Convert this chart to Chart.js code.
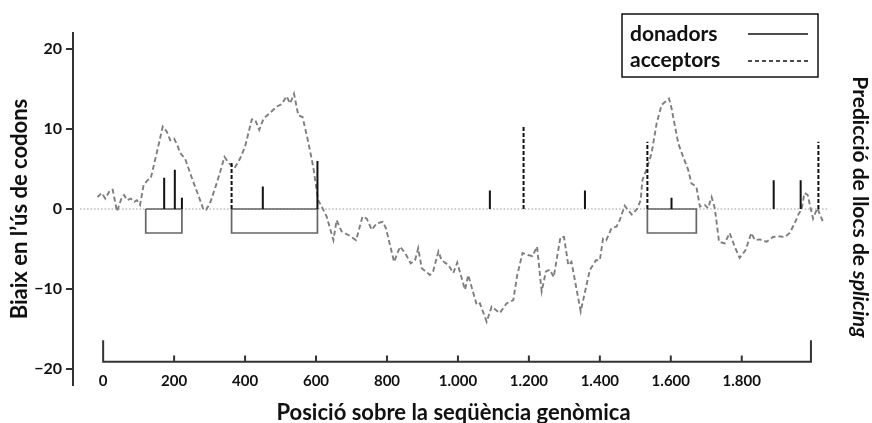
<!DOCTYPE html>
<html><head><meta charset="utf-8">
<script src="https://cdn.jsdelivr.net/npm/chart.js@4/dist/chart.umd.min.js"></script>
<style>html,body{margin:0;padding:0;background:#fff}#wrap{width:872px;height:423px;position:relative}</style>
</head><body><div id="wrap"><canvas id="c"></canvas></div>
<script>
// ---- data ----
const curvePos = [-16,-4,6,20,27,39,53,59,67,78,88,95,104,114,125,134,151,168,179,189,200,209,217,231,245,259,268,283,290,301,320,342,355,370,386,400,419,428,440,452,470,489,503,517,527,538,550,562,578,592,606,616,630,649,658,672,691,713,731,743,757,771,788,797,820,837,851,867,879,888,898,921,930,945,954,973,987,998,1020,1029,1053,1062,1081,1095,1118,1137,1156,1167,1182,1198,1210,1223,1236,1248,1259,1270,1289,1299,1311,1320,1346,1372,1389,1400,1409,1418,1433,1447,1456,1470,1490,1505,1515,1520,1531,1546,1560,1574,1595,1602,1621,1635,1649,1658,1672,1682,1696,1705,1715,1724,1736,1752,1766,1780,1794,1810,1827,1837,1851,1870,1888,1902,1921,1935,1949,1961,1968,1977,1986,1993,2001,2013,2029];
const curveVal = [1.5,2.0,1.3,2.4,2.4,-0.3,1.5,1.75,1.1,1.3,0.9,1.1,0.5,3.0,3.6,3.8,7.0,10.3,9.7,8.6,8.8,8.0,7.0,6.3,4.5,2.8,1.75,-0.1,-0.1,0.7,3.2,6.5,5.7,5.1,6.3,7.8,11.2,11.2,9.9,11.3,12.0,12.8,13.1,14.1,13.2,14.4,11.7,11.5,8.4,5.3,1.1,0.3,-0.95,-3.9,-1.4,-2.8,-3.25,-3.9,-0.95,-1.2,-2.6,-1.8,-1.6,-2.4,-6.6,-4.7,-5.5,-6.8,-6.4,-4.9,-7.4,-8.25,-7.8,-5.3,-6.4,-7.0,-8.0,-6.7,-10.1,-8.25,-12.0,-11.8,-14.1,-12.2,-13.0,-11.8,-11.4,-8.3,-5.5,-5.75,-5.9,-4.7,-10.3,-7.8,-7.6,-8.5,-3.5,-3.5,-7.0,-6.6,-12.8,-7.6,-6.4,-6.4,-3.7,-3.9,-2.4,-2.2,-1.4,0.4,-0.7,0.0,1.1,3.6,4.9,7.0,10.7,13.0,13.8,12.6,8.2,6.5,4.9,3.2,2.8,0.3,0.5,0.1,1.5,0.1,-4.1,-4.3,-3.0,-4.7,-6.1,-5.2,-3.0,-3.9,-3.8,-4.1,-3.5,-3.4,-3.5,-3.0,-1.8,-0.55,-0.1,2.0,1.75,0.3,-1.2,0.1,-1.6];
const donorPos = [172,202,222,450,604,1090,1358,1602,1890,1966];
const donorHeight = [3.9,4.9,1.4,2.8,6.0,2.3,2.3,1.4,3.6,3.6];
const acceptorPos = [362,1185,1534,2016];
const acceptorHeight = [6.0,10.4,8.4,8.4];
const exonStart = [120,362,1534];
const exonEnd = [222,604,1672];
const exonDepth = [-3,-3,-3];
const xTickValues = [0,200,400,600,800,1000,1200,1400,1600,1800];
const yTickValues = [-20,-10,0,10,20];
const xAxisExtent = [0,1995];
const xAxisLevel = -19.1;
const zeroLineExtent = [-65,2046];
const legendLabels = ['donadors','acceptors'];
const yTitle = 'Biaix en l\u2019ús de codons';
const xTitle = 'Posició sobre la seqüència genòmica';
const rightTitleParts = ['Predicció de llocs de ', 'splicing'];

// ---- build datasets ----
const curveData = curvePos.map((p,i)=>({x:p,y:curveVal[i]}));
function sticks(pos, h){ const d=[]; pos.forEach((p,i)=>{d.push({x:p,y:0},{x:p,y:h[i]},{x:p,y:null});}); return d; }
const exonData = [];
exonStart.forEach((s,i)=>{ const e=exonEnd[i], d=exonDepth[i];
  exonData.push({x:s,y:0},{x:s,y:d},{x:e,y:d},{x:e,y:0},{x:s,y:0},{x:s,y:null}); });
const zeroData = [{x:zeroLineExtent[0],y:0},{x:zeroLineExtent[1],y:0}];

const FONT = 'Lato, "Open Sans", sans-serif';

const decor = {
  id:'decor',
  afterDraw(chart){
    const ctx = chart.ctx, xs = chart.scales.x, ys = chart.scales.y;
    ctx.save();
    // x axis bracket
    const yA = ys.getPixelForValue(xAxisLevel);
    const yEnd = ys.getPixelForValue(xAxisLevel+2.7);
    const yTick = ys.getPixelForValue(xAxisLevel+0.8);
    const x0 = xs.getPixelForValue(xAxisExtent[0]), x1 = xs.getPixelForValue(xAxisExtent[1]);
    ctx.strokeStyle = '#333'; ctx.lineWidth = 2; ctx.lineCap='butt';
    ctx.beginPath();
    ctx.moveTo(x0,yEnd); ctx.lineTo(x0,yA); ctx.lineTo(x1,yA); ctx.lineTo(x1,yEnd);
    xTickValues.forEach(v=>{ if(v<=xAxisExtent[0]) return; const px=xs.getPixelForValue(v); ctx.moveTo(px,yA); ctx.lineTo(px,yTick); });
    ctx.stroke();
    // right title
    ctx.fillStyle = '#111';
    const f1 = 'bold 21px '+FONT, f2 = 'italic bold 21px '+FONT;
    ctx.font = f1; const w1 = ctx.measureText(rightTitleParts[0]).width;
    ctx.font = f2; const w2 = ctx.measureText(rightTitleParts[1]).width;
    const cy = (chart.chartArea.top+chart.chartArea.bottom)/2 - 2;
    ctx.translate(860, cy); ctx.rotate(Math.PI/2);
    ctx.textBaseline='middle'; ctx.textAlign='left';
    ctx.font = f1; ctx.fillText(rightTitleParts[0], -(w1+w2)/2, 0);
    ctx.font = f2; ctx.fillText(rightTitleParts[1], -(w1+w2)/2 + w1, 0);
    ctx.restore();
    // legend
    ctx.save();
    const lx=622, ly=14, lw=196, lh=63;
    ctx.strokeStyle='#111'; ctx.lineWidth=1.5; ctx.strokeRect(lx,ly,lw,lh);
    ctx.fillStyle='#111'; ctx.font='bold 21px '+FONT; ctx.textBaseline='middle'; ctx.textAlign='left';
    ctx.fillText(legendLabels[0], lx+8, ly+20);
    ctx.fillText(legendLabels[1], lx+8, ly+46);
    ctx.lineWidth=1.6;
    ctx.beginPath(); ctx.moveTo(lx+126, ly+20); ctx.lineTo(lx+186, ly+20); ctx.stroke();
    ctx.setLineDash([4,3]);
    ctx.beginPath(); ctx.moveTo(lx+126, ly+47); ctx.lineTo(lx+186, ly+47); ctx.stroke();
    ctx.restore();
  }
};

new Chart(document.getElementById('c'), {
  type:'line',
  data:{ datasets:[
    {label:'donadors', data:sticks(donorPos, donorHeight), borderColor:'#111', borderWidth:2, pointRadius:0, spanGaps:false, tension:0},
    {label:'acceptors', data:sticks(acceptorPos, acceptorHeight), borderColor:'#111', borderWidth:2, borderDash:[4,2], pointRadius:0, spanGaps:false, tension:0},
    {label:'exons', data:exonData, borderColor:'#666', borderWidth:1.7, pointRadius:0, spanGaps:false, tension:0},
    {label:'biaix', data:curveData, borderColor:'#7e7e7e', borderWidth:1.9, borderDash:[5,3], pointRadius:0, tension:0},
    {label:'zero', data:zeroData, borderColor:'#9a9a9a', borderWidth:1.2, borderDash:[1.5,2], pointRadius:0, tension:0}
  ]},
  options:{
    responsive:true, maintainAspectRatio:false, animation:false,
    layout:{padding:{top:33,right:38,bottom:38,left:0}},
    plugins:{legend:{display:false}, tooltip:{enabled:false}},
    scales:{
      x:{ type:'linear', min:-85, max:2060, position:{y:xAxisLevel},
        afterBuildTicks(s){ s.ticks = xTickValues.map(v=>({value:v})); },
        ticks:{ autoSkip:false, maxRotation:0, padding:10, color:'#111',
          font:{family:FONT, size:15, weight:'bold'},
          callback:(v)=> String(v).replace(/\B(?=(\d{3})+(?!\d))/g,'.') },
        grid:{display:false, drawTicks:false}, border:{display:false},
        title:{display:true, text:xTitle, color:'#111', font:{family:FONT,size:22,weight:'bold'}, padding:{top:0,bottom:3}}
      },
      y:{ type:'linear', min:-22, max:22, position:'left',
        afterBuildTicks(s){ s.ticks = yTickValues.map(v=>({value:v})); },
        afterFit(s){ s.width = 73; },
        ticks:{ padding:4, color:'#111', font:{family:FONT,size:16,weight:'bold'},
          callback:(v)=> String(v).replace('-', '\u2212') },
        grid:{display:true, drawOnChartArea:false, drawTicks:true, tickLength:7, color:'#333', lineWidth:2},
        border:{display:true, color:'#333', width:2},
        title:{display:true, text:yTitle, color:'#111', font:{family:FONT,size:22,weight:'bold'}, padding:{top:7,bottom:0}}
      }
    }
  },
  plugins:[decor]
});
</script></body></html>
